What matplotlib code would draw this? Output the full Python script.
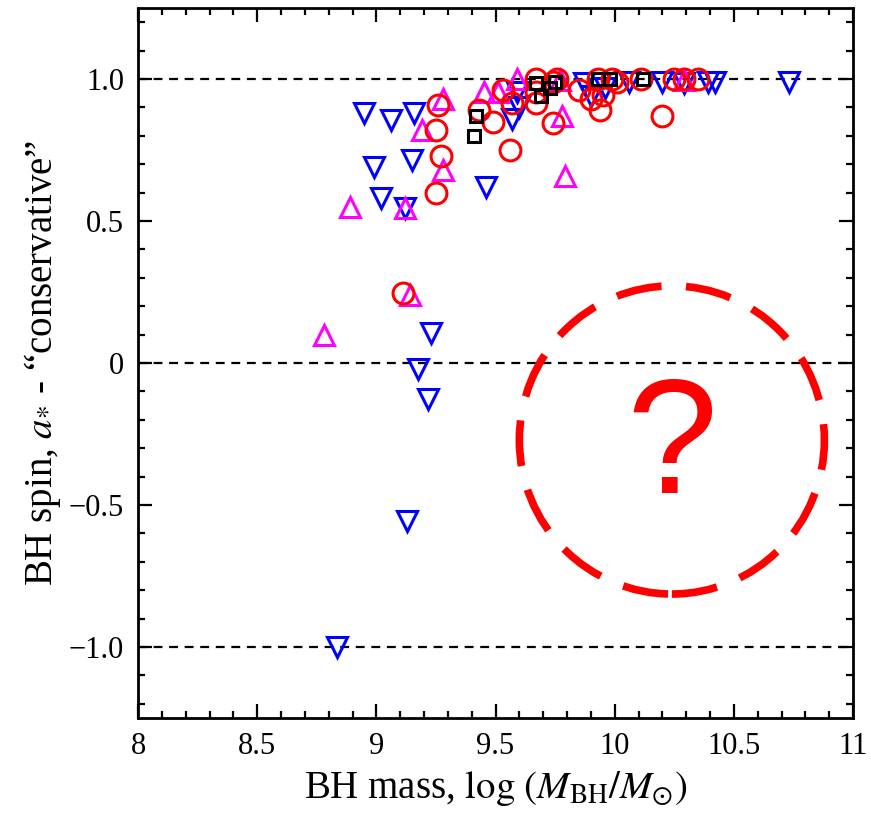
import numpy as np
import matplotlib
matplotlib.use('Agg')
import matplotlib.pyplot as plt
from matplotlib.patches import Ellipse
from matplotlib.ticker import MultipleLocator, FixedLocator

plt.rcParams['font.family'] = ['Liberation Serif', 'DejaVu Serif']
plt.rcParams['mathtext.fontset'] = 'stix'

# blue downward triangles
blue_x = [8.95, 9.06, 9.16, 8.99, 9.02, 9.15, 9.12, 9.46, 9.23, 9.175, 9.215, 9.13, 8.835,
          9.57, 9.59, 9.60, 9.87, 9.90, 9.96, 10.06, 10.20, 10.29, 10.39, 10.42, 10.73]
blue_y = [0.88, 0.855, 0.88, 0.69, 0.58, 0.715, 0.545, 0.62, 0.105, -0.02, -0.125, -0.555, -1.0,
          0.86, 0.955, 0.90, 0.985, 0.94, 0.97, 0.99, 0.99, 0.985, 0.99, 0.99, 0.99]

# magenta upward triangles
mag_x = [8.78, 8.89, 9.12, 9.14, 9.19, 9.28, 9.28, 9.45, 9.51, 9.59, 9.79, 9.78, 9.77, 10.29]
mag_y = [0.10, 0.55, 0.545, 0.24, 0.82, 0.93, 0.68, 0.955, 0.955, 1.0, 0.66, 0.87, 0.995, 0.995]

# red circles
red_x = [9.11, 9.25, 9.27, 9.25, 9.26, 9.43, 9.49, 9.56, 9.57, 9.53, 9.67, 9.67, 9.67, 9.74,
         9.74, 9.76, 9.85, 9.90, 9.95, 9.94, 9.93, 9.99, 10.01, 10.11, 10.20, 10.25, 10.29, 10.35]
red_y = [0.245, 0.60, 0.73, 0.82, 0.91, 0.89, 0.85, 0.75, 0.915, 0.96, 0.955, 0.915, 1.0, 0.99,
         0.845, 1.0, 0.96, 0.93, 0.945, 0.89, 1.0, 1.0, 0.99, 1.0, 0.87, 1.0, 1.0, 1.0]

# black squares
blk_x = [9.41, 9.42, 9.67, 9.69, 9.73, 9.75, 9.93, 9.98, 10.12]
blk_y = [0.80, 0.87, 0.985, 0.94, 0.97, 0.99, 1.0, 1.0, 1.0]

ref_levels = [1.0, 0.0, -1.0]
x_ticks = [8, 8.5, 9, 9.5, 10, 10.5, 11]
x_ticklabels = ['8', '8.5', '9', '9.5', '10', '10.5', '11']
y_ticks = [-1.0, -0.5, 0, 0.5, 1.0]
y_ticklabels = ['\u22121.0', '\u22120.5', '0', '0.5', '1.0']

fig = plt.figure(figsize=(8.71, 8.15), dpi=100, facecolor='white')
ax = fig.add_axes([138 / 871, 1 - 718 / 815, (853 - 138) / 871, 710 / 815])

for lev in ref_levels:
    ax.axhline(lev, color='black', linestyle=(0, (4, 3)), linewidth=1.6, zorder=1)

ax.plot(blue_x, blue_y, 'v', ms=15, mfc='none', mec='blue', mew=2.2, zorder=2)
ax.plot(mag_x, mag_y, '^', ms=15, mfc='none', mec='magenta', mew=2.2, zorder=2)
ax.plot(red_x, red_y, 'o', ms=15, mfc='none', mec='red', mew=2.2, zorder=3)
ax.plot(blk_x, blk_y, 's', ms=8.5, mfc='none', mec='black', mew=2.2, zorder=4)

# dashed circle with question mark
ell = Ellipse((10.24, -0.271), 1.28, 1.085, fill=False, edgecolor='red',
              linewidth=5.5, linestyle=(0, (6, 3.2)), zorder=5)
ax.add_patch(ell)
ax.text(10.24, -0.31, '?', color='red', fontsize=118, family='Liberation Sans',
        ha='center', va='center', zorder=5)

ax.set_xlim(8, 11)
ax.set_ylim(-1.25, 1.25)
ax.xaxis.set_major_locator(FixedLocator(x_ticks))
ax.set_xticklabels(x_ticklabels)
ax.yaxis.set_major_locator(FixedLocator(y_ticks))
ax.set_yticklabels(y_ticklabels)
ax.xaxis.set_minor_locator(MultipleLocator(0.1))
ax.yaxis.set_minor_locator(MultipleLocator(0.1))
ax.tick_params(which='both', direction='in', top=True, right=True, width=1.6)
ax.tick_params(which='major', length=10, labelsize=22, pad=10)
ax.tick_params(which='minor', length=5)
for sp in ax.spines.values():
    sp.set_linewidth(2)

ax.set_xlabel(r'BH mass, $\log\,(M_{\rm BH}/M_{\odot})$', fontsize=28, labelpad=6)
ax.set_ylabel('BH spin, $a_{*}$ - \u201cconservative\u201d', fontsize=28, labelpad=4)

plt.savefig('out.png', dpi=100, facecolor='white')
plt.close()
